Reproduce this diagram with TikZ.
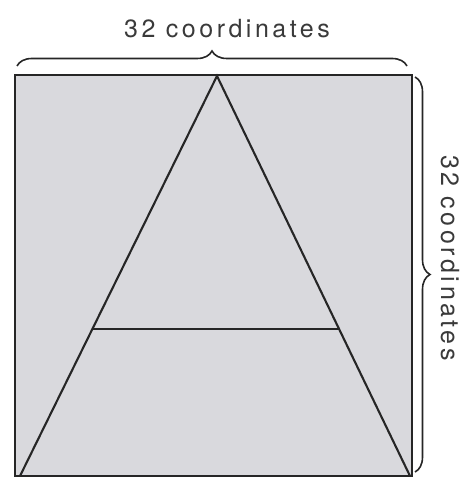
\documentclass[tikz,border=0pt]{standalone}
\usepackage{fontspec}
\setmainfont{TeX Gyre Heros}
\usetikzlibrary{decorations.pathreplacing,calc}
\definecolor{sheet}{HTML}{D9D9DD}
\definecolor{ink}{HTML}{262626}
\definecolor{labelink}{HTML}{3A3A3A}
\tikzset{
  edge/.style={draw=ink, line width=2.1pt},
  curly/.style={draw=ink, line width=1.6pt, decorate, decoration={brace, amplitude=15pt}},
  lbl/.style={text=labelink, font=\fontsize{25}{29}\selectfont\addfontfeatures{LetterSpace=14}, inner sep=0pt}
}
\begin{document}
\begin{tikzpicture}[x=1pt, y=-1pt]
\useasboundingbox (0,0) rectangle (464,478);
\fill[white] (0,0) rectangle (464,478);
% square
\coordinate (tl) at (15,75);
\coordinate (br) at (412,476);
\fill[sheet] (tl) rectangle (br);
\draw[edge] (tl) rectangle (br);
% letter A
\coordinate (apex) at (217,76);
\coordinate (footL) at (20,476);
\coordinate (footR) at (410,476);
\coordinate (barL) at ($(apex)!0.6325!(footL)$);
\coordinate (barR) at ($(apex)!0.6325!(footR)$);
\draw[edge, line join=miter] (footL) -- (apex) -- (footR);
\draw[edge] (barL) -- (barR);
% braces
\coordinate (topbL) at (17,66);
\coordinate (topbR) at (407,66);
\draw[curly] (topbL) -- (topbR);
\coordinate (rbT) at (415,77);
\coordinate (rbB) at (415,472);
\draw[curly] (rbT) -- (rbB);
% labels
\node[lbl] (toplabel) at (227,29) {32 coordinates};
\node[lbl, rotate=-90] (rightlabel) at (450,258) {32 coordinates};
\end{tikzpicture}
\end{document}
